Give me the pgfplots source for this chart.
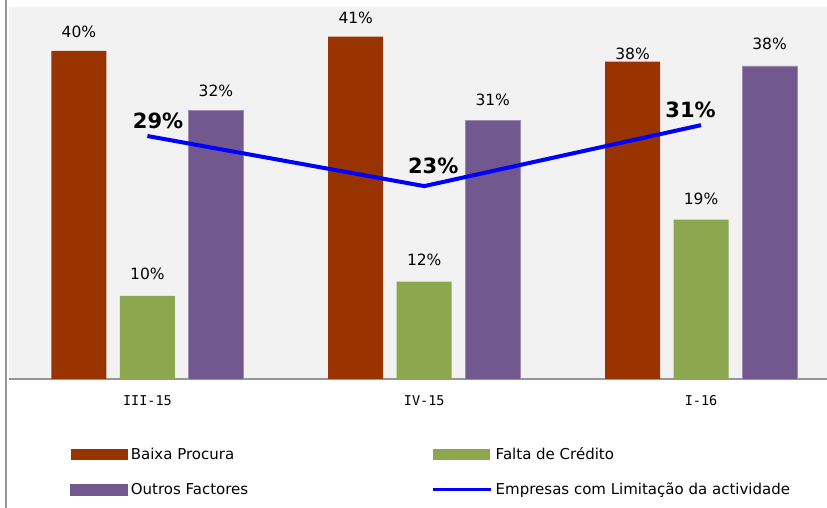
\documentclass[border=0pt]{standalone}
\usepackage{pgfplots}
\pgfplotsset{compat=1.18}
\usepackage{pgfplotstable}
\usepackage{fontspec}
\setmainfont{DejaVu Sans}
\newfontfamily\monofont{DejaVu Sans Mono}
\definecolor{cBrown}{RGB}{153,51,0}
\definecolor{cGreen}{RGB}{141,167,79}
\definecolor{cPurple}{RGB}{113,88,143}
\definecolor{cBg}{RGB}{242,242,242}
\definecolor{cAxis}{RGB}{150,150,150}

\pgfplotstableread{
x y lab dy
0 39.3 40 19
1 41.0 41 19
2 38.0 38 7.7
}\brownT
\pgfplotstableread{
x y lab dy
0 9.94 10 22
1 11.65 12 21.5
2 19.1 19 21
}\greenT
\pgfplotstableread{
x y lab dy
0 32.2 32 19
1 31.0 31 20.5
2 37.5 38 22
}\purpleT
\pgfplotstableread{
x y lab dx dy
0 29.1 29 10.7 15
1 23.1 23 9 20
2 30.4 31 -10.5 15.5
}\lineT

\begin{document}
\begin{tikzpicture}
\useasboundingbox (0,0) rectangle (827pt,508pt);
\fill[white] (0,0) rectangle (827pt,508pt);
\draw[cAxis, line width=2pt] (6pt,0) -- (6pt,508pt);
\begin{axis}[
  at={(9pt,129pt)}, anchor=south west,
  scale only axis, width=818pt, height=372pt,
  xmin=-0.5, xmax=2.455, ymin=0, ymax=44.55,
  axis background/.style={fill=cBg},
  axis x line*=bottom, axis y line=none,
  x axis line style={cAxis, line width=1.5pt},
  xtick={0,1,2}, xticklabels={III-15,IV-15,I-16},
  major tick length=0pt,
  xticklabel style={font=\monofont\fontsize{13.5}{15}\selectfont, anchor=center, yshift=-22pt},
  ytick=\empty,
  clip=false,
  legend columns=2,
  legend cell align=left,
  legend style={at={(axis description cs:0.0746,-0.184)}, anchor=north west,
    draw=none, fill=none, inner sep=0pt,
    font=\fontsize{15}{18}\selectfont,
    nodes={inner sep=0pt},
    row sep=22pt,
    /tikz/every odd column/.append style={column sep=3pt},
    /tikz/every even column/.append style={column sep=183pt}},
]
\addplot[ybar, bar width=55pt, bar shift=-68.5pt, fill=cBrown, draw=none,
  point meta=explicit symbolic,
  nodes near coords={\pgfplotspointmeta\%},
  visualization depends on={\thisrow{dy} \as \dy},
  every node near coord/.append style={anchor=center, xshift=-68.5pt, yshift=\dy pt, font=\fontsize{15.5}{18}\selectfont, text=black},
  legend image code/.code={\fill[cBrown] (0pt,-5.3pt) rectangle (57pt,5.3pt);}]
  table[x=x, y=y, meta=lab]{\brownT};
\addlegendentry{Baixa Procura}
\addplot[ybar, bar width=55pt, bar shift=0pt, fill=cGreen, draw=none,
  point meta=explicit symbolic,
  nodes near coords={\pgfplotspointmeta\%},
  visualization depends on={\thisrow{dy} \as \dy},
  every node near coord/.append style={anchor=center, yshift=\dy pt, font=\fontsize{15.5}{18}\selectfont, text=black},
  legend image code/.code={\fill[cGreen] (0pt,-5.3pt) rectangle (57pt,5.3pt);}]
  table[x=x, y=y, meta=lab]{\greenT};
\addlegendentry{Falta de Crédito}
\addplot[ybar, bar width=55pt, bar shift=68.5pt, fill=cPurple, draw=cPurple!70!white, line width=0.6pt,
  point meta=explicit symbolic,
  nodes near coords={\pgfplotspointmeta\%},
  visualization depends on={\thisrow{dy} \as \dy},
  every node near coord/.append style={anchor=center, xshift=68.5pt, yshift=\dy pt, font=\fontsize{15.5}{18}\selectfont, text=black},
  legend image code/.code={\fill[cPurple] (0pt,-5.3pt) rectangle (57pt,5.3pt);}]
  table[x=x, y=y, meta=lab]{\purpleT};
\addlegendentry{Outros Factores}
\addplot[blue, line width=4pt, mark=none,
  point meta=explicit symbolic,
  nodes near coords={\pgfplotspointmeta\%},
  visualization depends on={\thisrow{dx} \as \dx},
  visualization depends on={\thisrow{dy} \as \dyy},
  every node near coord/.append style={anchor=center, xshift=\dx pt, yshift=\dyy pt, font=\bfseries\fontsize{21}{24}\selectfont, text=black},
  legend image code/.code={\draw[blue, line width=3.5pt] (0pt,0pt) -- (58pt,0pt);}]
  table[x=x, y=y, meta=lab]{\lineT};
\addlegendentry{Empresas com Limitação da actividade}
\end{axis}
\end{tikzpicture}
\end{document}
